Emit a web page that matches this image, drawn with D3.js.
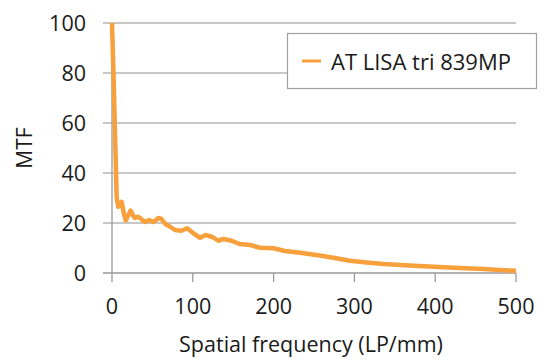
<!DOCTYPE html>
<html>
<head>
<meta charset="utf-8">
<script src="https://cdn.jsdelivr.net/npm/d3@7"></script>
<style>
  body { margin: 0; background: #fff; }
  text { font-family: "Open Sans", sans-serif; fill: #1a1a1a; }
</style>
</head>
<body>
<svg id="chart" width="552" height="359"></svg>
<script>
// spatial frequency (LP/mm) and MTF (%)
var freq = [0, 2, 3.7, 5, 5.8, 7.8, 10, 12, 14.5, 17, 20, 23, 26, 28.5, 32, 35, 38, 41, 46, 51, 54, 57, 61, 66, 72, 78, 86, 93, 100.6, 109, 116, 125, 131.5, 138, 148, 158, 171, 183, 200, 214, 233, 255, 274, 294.5, 315, 336, 368, 398, 430, 460, 480, 500];
var mtf  = [100, 78, 56, 40, 30, 26.5, 27, 28.5, 24, 21, 23, 25, 23, 22, 22.5, 22, 21, 20.4, 21.2, 20.4, 21, 22, 21.7, 19.6, 18.5, 17.2, 16.9, 17.9, 15.9, 14.1, 15.2, 14.3, 12.9, 13.6, 12.9, 11.6, 11.2, 10.1, 9.9, 8.8, 8.1, 7.1, 6.1, 4.9, 4.2, 3.6, 3.0, 2.5, 2.0, 1.6, 1.2, 0.9];
var seriesName = "AT LISA tri 839MP";
var xTicks = [0, 100, 200, 300, 400, 500];
var yTicks = [0, 20, 40, 60, 80, 100];

var svg = d3.select("#chart");
var x = d3.scaleLinear().domain([0, 500]).range([112, 516]);
var y = d3.scaleLinear().domain([0, 100]).range([273, 23]);

// horizontal gridlines (stick out a bit left of the axis like ticks)
svg.append("g").selectAll("line").data(yTicks).enter().append("line")
  .attr("x1", 103).attr("x2", 516)
  .attr("y1", function(d) { return y(d); }).attr("y2", function(d) { return y(d); })
  .attr("stroke", function(d) { return d === 0 ? "#999" : "#b4b4b4"; })
  .attr("stroke-width", 1.3);

// y axis line
svg.append("line").attr("x1", x(0)).attr("x2", x(0)).attr("y1", y(100)).attr("y2", 282)
  .attr("stroke", "#999").attr("stroke-width", 1.3);

// x ticks
svg.append("g").selectAll("line").data(xTicks.slice(1)).enter().append("line")
  .attr("x1", function(d) { return x(d); }).attr("x2", function(d) { return x(d); })
  .attr("y1", y(0)).attr("y2", 282)
  .attr("stroke", "#999").attr("stroke-width", 1.3);

// tick labels
svg.append("g").selectAll("text").data(yTicks).enter().append("text")
  .attr("x", 86).attr("y", function(d) { return y(d) + 7.5; })
  .attr("text-anchor", "end").style("font-size", "21.5px")
  .text(function(d) { return d; });

svg.append("g").selectAll("text").data(xTicks).enter().append("text")
  .attr("x", function(d) { return x(d); }).attr("y", 314)
  .attr("text-anchor", "middle").style("font-size", "21.5px")
  .text(function(d) { return d; });

// axis titles
svg.append("text").attr("transform", "translate(32,148) rotate(-90)")
  .attr("text-anchor", "middle").style("font-size", "21px").text("MTF");
svg.append("text").attr("x", 311).attr("y", 352)
  .attr("text-anchor", "middle").style("font-size", "21.5px").text("Spatial frequency (LP/mm)");

// the curve
var line = d3.line()
  .x(function(d, i) { return x(freq[i]); })
  .y(function(d) { return y(d); });
svg.append("path").datum(mtf)
  .attr("d", line)
  .attr("fill", "none")
  .attr("stroke", "#f7a03c")
  .attr("stroke-width", 4.5)
  .attr("stroke-linejoin", "round");

// legend
var lg = svg.append("g");
lg.append("rect").attr("x", 287.5).attr("y", 33.5).attr("width", 249).attr("height", 55)
  .attr("fill", "#fff").attr("stroke", "#a0a0a0").attr("stroke-width", 1.2);
lg.append("line").attr("x1", 302).attr("x2", 321).attr("y1", 61).attr("y2", 61)
  .attr("stroke", "#f7a03c").attr("stroke-width", 3);
lg.append("text").attr("x", 331).attr("y", 69.5).style("font-size", "22px").text(seriesName);
</script>
</body>
</html>
